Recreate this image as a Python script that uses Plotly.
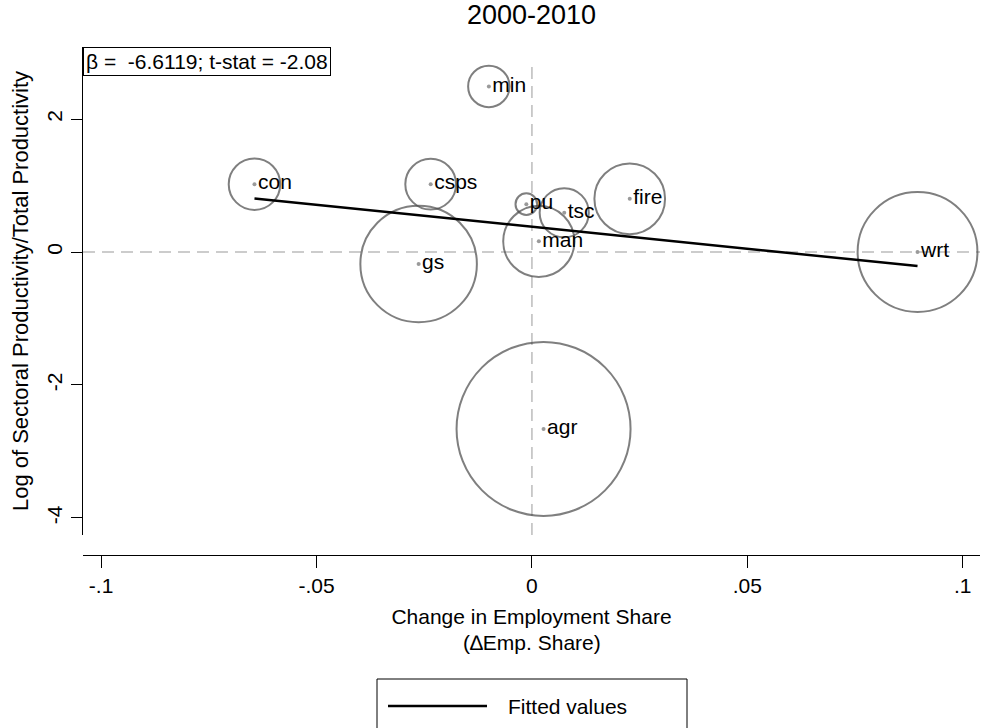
import plotly.graph_objects as go

# ---- data ----
sectors = ["agr", "min", "man", "pu", "con", "wrt", "tsc", "fire", "csps", "gs"]
emp_change = [0.0027, -0.0100, 0.0016, -0.0013, -0.0644, 0.0895, 0.0075, 0.0227, -0.0235, -0.0263]
log_rel_prod = [-2.66, 2.49, 0.16, 0.72, 1.02, 0.00, 0.59, 0.80, 1.02, -0.18]
emp_share = [0.388, 0.022, 0.065, 0.006, 0.034, 0.184, 0.031, 0.064, 0.033, 0.174]
beta = -6.6119
intercept = 0.38
tstat = -2.08
x_ticks = [-0.1, -0.05, 0, 0.05, 0.1]
x_ticktext = ["-.1", "-.05", "0", ".05", ".1"]
y_ticks = [-4, -2, 0, 2]
y_ticktext = ["-4", "-2", "0", "2"]
x_title = "Change in Employment Share"
x_subtitle = "(\u2206Emp. Share)"
y_title = "Log of Sectoral Productivity/Total Productivity"

FONT = "Liberation Sans, Arial, sans-serif"
fs = 21

W, H = 982, 728
ML, MR, MT, MB = 83, 2, 47, 173
PW, PH = W - ML - MR, H - MT - MB


def px_x(p):  # page pixel -> paper x
    return (p - ML) / PW


def px_y(p):  # page pixel -> paper y
    return (H - MB - p) / PH


fit_x = sorted(emp_change)
fit_y = [intercept + beta * v for v in fit_x]

fig = go.Figure()

# bubbles (area weighted by employment share)
fig.add_trace(go.Scatter(
    x=emp_change, y=log_rel_prod, mode="markers", showlegend=False, hoverinfo="skip",
    marker=dict(size=emp_share, sizemode="area", sizeref=0.194 / 87**2,
                color="rgba(0,0,0,0)", line=dict(color="#4a4a4a", width=2)),
))
# centre dots and labels
fig.add_trace(go.Scatter(
    x=emp_change, y=log_rel_prod, mode="markers+text", text=sectors,
    textposition="middle right", showlegend=False,
    textfont=dict(family=FONT, size=fs, color="black"),
    marker=dict(size=4, color="#9a9a9a"),
))
# fitted line
fig.add_trace(go.Scatter(
    x=fit_x, y=fit_y, mode="lines", name="Fitted values", showlegend=False,
    line=dict(color="black", width=2.5),
))

# reference dashed lines
fig.add_shape(type="line", xref="x", yref="y domain", x0=0, x1=0, y0=0, y1=0.96,
              line=dict(color="#bcbcbc", width=1.5, dash="12px,7px"), layer="below")
fig.add_shape(type="line", xref="x domain", yref="y", x0=0, x1=1, y0=0, y1=0,
              line=dict(color="#bcbcbc", width=1.5, dash="12px,7px"), layer="below")

# stat box
fig.add_annotation(xref="paper", yref="paper", x=0, y=1, xanchor="left", yanchor="top",
                   text=f"\u03b2 = &nbsp;{beta:.4f}; t-stat = {tstat:.2f}", showarrow=False,
                   font=dict(family=FONT, size=fs, color="black"),
                   bordercolor="black", borderwidth=1, borderpad=2, bgcolor="white")

# second line of x title
fig.add_annotation(xref="paper", yref="paper", x=0.5, y=px_y(642), xanchor="center",
                   yanchor="middle", text=x_subtitle, showarrow=False,
                   font=dict(family=FONT, size=fs, color="black"))

# manual legend
fig.add_shape(type="rect", xref="paper", yref="paper", x0=px_x(377), x1=px_x(687),
              y0=px_y(740), y1=px_y(679), line=dict(color="black", width=1))
fig.add_shape(type="line", xref="paper", yref="paper", x0=px_x(388), x1=px_x(487),
              y0=px_y(706), y1=px_y(706), line=dict(color="black", width=2.5))
fig.add_annotation(xref="paper", yref="paper", x=px_x(506), y=px_y(706),
                   xanchor="left", yanchor="middle", text="Fitted values", showarrow=False,
                   font=dict(family=FONT, size=fs, color="black"))

fig.update_layout(
    width=W, height=H,
    margin=dict(l=ML, r=MR, t=MT, b=MB),
    paper_bgcolor="white", plot_bgcolor="white",
    font=dict(family=FONT, size=fs, color="black"),
    title=dict(text="2000-2010", x=0.5, xref="paper", y=1 - 15 / H, yref="container",
               yanchor="middle", automargin=False, font=dict(family=FONT, size=27, color="black")),
    xaxis=dict(range=[-0.1042, 0.104], tickvals=x_ticks, ticktext=x_ticktext, automargin=False,
               showgrid=False, zeroline=False, showline=True, linecolor="black", linewidth=1.3,
               ticks="outside", ticklen=12, tickwidth=1.3, tickcolor="black",
               anchor="free", position=0, tickfont=dict(size=fs),
               title=dict(text=x_title, standoff=12, font=dict(size=fs))),
    yaxis=dict(domain=[(H - MB - 535) / PH, 1], range=[-4.256, 3.083], tickvals=y_ticks,
               ticktext=y_ticktext, automargin=False, tickangle=-90, showgrid=False,
               zeroline=False, showline=True, linecolor="black", tickfont=dict(size=fs),
               linewidth=1.3, ticks="outside", ticklen=11, tickwidth=1.3, tickcolor="black",
               title=dict(text=y_title, standoff=8, font=dict(size=22))),
)

fig.write_html("out.html", config={"displayModeBar": False},
               post_script="document.body.style.margin='0';")
